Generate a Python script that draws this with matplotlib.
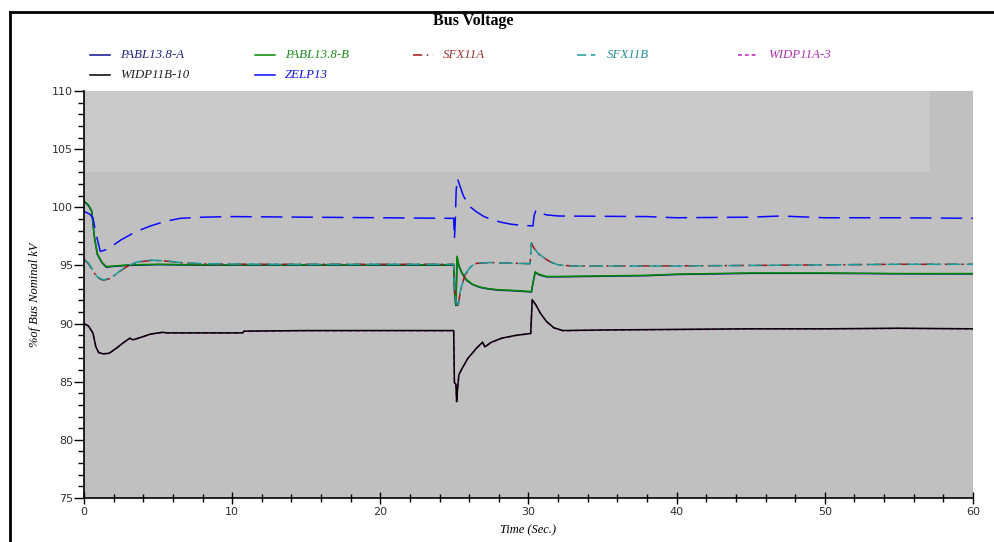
import matplotlib.pyplot as plt
from matplotlib.lines import Line2D
from matplotlib.patches import Rectangle
from matplotlib.ticker import MultipleLocator

# readings (time in s, voltage in % of nominal kV)
t_zelp = [0, 0.4, 0.6, 0.85, 1.1, 1.6, 2.5, 3.5, 4.5, 5.5, 6.5, 8, 10, 15, 20,
          24.95, 25.0, 25.05, 25.12, 25.2, 25.3, 25.6, 26.0, 26.5, 27.0, 27.6,
          28.2, 28.8, 29.5, 30.3, 30.38, 30.5, 30.8, 31.2, 32, 38, 40, 45, 47,
          50, 55, 60]
v_zelp = [99.65, 99.4, 99.1, 97.5, 96.2, 96.4, 97.2, 97.9, 98.4, 98.8, 99.05,
          99.15, 99.2, 99.15, 99.1, 99.05, 97.3, 98.5, 101.5, 102.5, 102.1,
          101.0, 100.1, 99.6, 99.2, 98.9, 98.7, 98.55, 98.45, 98.4, 99.3, 99.75,
          99.5, 99.35, 99.25, 99.2, 99.1, 99.15, 99.25, 99.1, 99.1, 99.05]

t_pablb = [0, 0.3, 0.52, 0.7, 0.9, 1.2, 1.5, 2.0, 3, 5, 8, 15, 20, 24.95,
           25.02, 25.1, 25.18, 25.3, 25.5, 25.8, 26.2, 26.7, 27.3, 28, 29,
           30.2, 30.3, 30.45, 30.7, 31.2, 32, 35, 38, 40, 45, 50, 55, 60]
v_pablb = [100.55, 100.2, 99.7, 97.5, 96.0, 95.3, 94.9, 94.95, 95.05, 95.1,
           95.05, 95.05, 95.05, 95.05, 92.5, 91.6, 95.8, 95.0, 94.4, 93.8, 93.4,
           93.15, 93.0, 92.9, 92.85, 92.75, 93.5, 94.45, 94.25, 94.05, 94.05,
           94.1, 94.15, 94.25, 94.35, 94.35, 94.3, 94.3]

t_pabla = [0, 0.3, 0.52, 0.7, 0.9, 1.2, 1.5, 2.0, 3, 5, 8, 15, 20, 24.95,
           25.02, 25.1, 25.18, 25.3, 25.5, 25.8, 26.2, 26.7, 27.3, 28, 29,
           30.2, 30.3, 30.45, 30.7, 31.2, 32, 35, 38, 40, 45, 50, 55, 60]
v_pabla = [100.5, 100.15, 99.65, 97.45, 95.95, 95.25, 94.85, 94.92, 95.0,
           95.07, 95.02, 95.03, 95.02, 95.02, 92.45, 91.55, 95.7, 94.95, 94.35,
           93.75, 93.37, 93.12, 92.97, 92.87, 92.82, 92.72, 93.45, 94.4, 94.2,
           94.02, 94.02, 94.07, 94.12, 94.22, 94.32, 94.32, 94.28, 94.27]

t_sfxb = [0, 0.3, 0.6, 0.9, 1.3, 1.8, 2.4, 3.0, 3.6, 4.5, 5.5, 6.5, 8, 12, 20,
          24.95, 25.03, 25.12, 25.25, 25.4, 25.7, 26.1, 26.5, 27.5, 28.5, 30.1,
          30.2, 30.35, 30.6, 31.0, 31.5, 32, 33, 40, 45, 50, 55, 60]
v_sfxb = [95.55, 95.2, 94.6, 94.0, 93.75, 93.9, 94.5, 95.0, 95.3, 95.45, 95.4,
          95.25, 95.15, 95.1, 95.1, 95.1, 92.5, 91.9, 91.6, 92.8, 94.2, 94.9,
          95.2, 95.25, 95.2, 95.15, 96.95, 96.6, 96.1, 95.7, 95.3, 95.05, 94.95,
          94.95, 95.0, 95.05, 95.1, 95.1]

t_sfxa = [0, 0.3, 0.6, 0.9, 1.3, 1.8, 2.4, 3.0, 3.6, 4.5, 5.5, 6.5, 8, 12, 20,
          24.95, 25.03, 25.12, 25.25, 25.4, 25.7, 26.1, 26.5, 27.5, 28.5, 30.1,
          30.2, 30.35, 30.6, 31.0, 31.5, 32, 33, 40, 45, 50, 55, 60]
v_sfxa = [95.5, 95.15, 94.55, 93.95, 93.72, 93.88, 94.48, 94.98, 95.28, 95.43,
          95.38, 95.23, 95.13, 95.1, 95.1, 95.1, 92.45, 91.85, 91.55, 92.75,
          94.15, 94.88, 95.18, 95.24, 95.2, 95.15, 96.9, 96.55, 96.05, 95.68,
          95.28, 95.04, 94.95, 94.96, 95.0, 95.05, 95.1, 95.1]

t_widb = [0, 0.3, 0.6, 0.8, 1.0, 1.3, 1.7, 2.2, 2.7, 3.1, 3.3, 3.8, 4.5, 5.3,
          5.6, 8, 10.7, 10.8, 15, 20, 24.95, 25.0, 25.1, 25.15, 25.2, 25.3,
          25.5, 25.9, 26.5, 26.9, 27.05, 27.5, 28.2, 29.2, 30.15, 30.25, 30.5,
          30.8, 31.2, 31.7, 32.3, 35, 40, 45, 50, 55, 60]
v_widb = [90.0, 89.8, 89.2, 88.0, 87.5, 87.4, 87.45, 87.9, 88.4, 88.75, 88.6,
          88.8, 89.1, 89.25, 89.2, 89.2, 89.2, 89.35, 89.4, 89.4, 89.4, 84.9,
          84.8, 83.3, 84.2, 85.6, 86.1, 87.0, 87.9, 88.4, 88.0, 88.4, 88.75,
          89.0, 89.15, 92.05, 91.6, 90.9, 90.2, 89.65, 89.4, 89.45, 89.5, 89.55,
          89.55, 89.6, 89.55]

t_wida = [0, 0.3, 0.6, 0.8, 1.0, 1.3, 1.7, 2.2, 2.7, 3.1, 3.3, 3.8, 4.5, 5.3,
          5.6, 8, 10.7, 10.8, 15, 20, 24.95, 25.0, 25.1, 25.15, 25.2, 25.3,
          25.5, 25.9, 26.5, 26.9, 27.05, 27.5, 28.2, 29.2, 30.15, 30.25, 30.5,
          30.8, 31.2, 31.7, 32.3, 35, 40, 45, 50, 55, 60]
v_wida = [89.98, 89.78, 89.18, 87.98, 87.48, 87.38, 87.43, 87.88, 88.38,
          88.73, 88.58, 88.78, 89.08, 89.23, 89.18, 89.18, 89.18, 89.33, 89.38,
          89.38, 89.38, 84.88, 84.78, 83.28, 84.18, 85.58, 86.08, 86.98, 87.88,
          88.38, 87.98, 88.38, 88.73, 88.98, 89.13, 92.03, 91.58, 90.88, 90.18,
          89.63, 89.38, 89.43, 89.48, 89.53, 89.53, 89.58, 89.53]

# name, t, v, line colour, text colour, dash pattern
series = [
    ("PABL13.8-A", t_pabla, v_pabla, "#10108a", "#202080", "-"),
    ("PABL13.8-B", t_pablb, v_pablb, "#008a00", "#1a8a1a", "-"),
    ("SFX11A", t_sfxa, v_sfxa, "#a01818", "#a03030", (0, (8, 3, 1.5, 3))),
    ("SFX11B", t_sfxb, v_sfxb, "#1a9a9a", "#208f8f", (0, (9, 4))),
    ("WIDP11A-3", t_wida, v_wida, "#c020c0", "#b030b0", (0, (3, 2))),
    ("WIDP11B-10", t_widb, v_widb, "#000000", "#202020", "-"),
    ("ZELP13", t_zelp, v_zelp, "#0a0aff", "#1010e0", (0, (14, 6))),
]
legend_style = {"SFX11A": (0, (6, 3, 1, 3)), "SFX11B": (0, (6, 3, 3, 3)),
                "WIDP11A-3": (0, (2.5, 2)), "ZELP13": "-"}

fig = plt.figure(figsize=(9.95, 5.42), dpi=100)
ax = fig.add_axes([84 / 995, 1 - 498 / 542, 889 / 995, 407 / 542])
ax.set_facecolor("#c0c0c0")
# lighter band left by the watermark in the source picture
ax.add_patch(Rectangle((0, 0.80), 0.952, 0.2, transform=ax.transAxes,
                       color="#c9c9c9", lw=0, zorder=0))

for name, t, v, col, tcol, ls in series:
    ax.plot(t, v, color=col, lw=1.1, linestyle=ls, zorder=2)

ax.set_xlim(0, 60)
ax.set_ylim(75, 110)
ax.xaxis.set_major_locator(MultipleLocator(10))
ax.xaxis.set_minor_locator(MultipleLocator(2))
ax.yaxis.set_major_locator(MultipleLocator(5))
ax.yaxis.set_minor_locator(MultipleLocator(1))
ax.tick_params(axis="x", which="major", direction="inout", length=9, width=1,
               labelsize=8, pad=2)
ax.tick_params(axis="x", which="minor", direction="inout", length=6, width=1)
ax.tick_params(axis="y", which="major", direction="out", length=7, width=1,
               labelsize=8, pad=1)
ax.tick_params(axis="y", which="minor", direction="out", length=4, width=1)
for lab in ax.get_xticklabels() + ax.get_yticklabels():
    lab.set_color("#303030")
for s in ["top", "right"]:
    ax.spines[s].set_visible(False)
ax.spines["left"].set_linewidth(1.2)
ax.spines["bottom"].set_linewidth(1.2)

ax.set_xlabel("Time (Sec.)", family="Liberation Serif", style="italic",
              fontsize=9, labelpad=5)
ax.set_ylabel("%of Bus Nominal kV", family="Liberation Serif", style="italic",
              fontsize=9, labelpad=8)

fig.text(473 / 995, 1 - 21 / 542, "Bus Voltage", ha="center", va="center",
         family="Liberation Serif", weight="bold", fontsize=11.5)

# frame lines of the original window
fig.add_artist(Line2D([10 / 995, 10 / 995], [0, 1 - 12 / 542], color="black",
                      lw=2, transform=fig.transFigure))
fig.add_artist(Line2D([10 / 995, 1], [1 - 12 / 542, 1 - 12 / 542],
                      color="black", lw=2, transform=fig.transFigure))

# legend, laid out as in the source: five columns, two rows
col_x = [90, 255, 413, 577, 738]
row_y = [55, 75]
for i, (name, t, v, col, tcol, ls) in enumerate(series):
    x0 = col_x[i % 5]
    y0 = 1 - row_y[i // 5] / 542
    fig.add_artist(Line2D([x0 / 995, (x0 + 20) / 995], [y0, y0], color=col,
                          lw=1.1, linestyle=legend_style.get(name, ls),
                          transform=fig.transFigure))
    fig.text((x0 + 30) / 995, y0, name, ha="left", va="center", color=tcol,
             family="Liberation Serif", style="italic", fontsize=9.3)

plt.savefig("out.png", dpi=100)
